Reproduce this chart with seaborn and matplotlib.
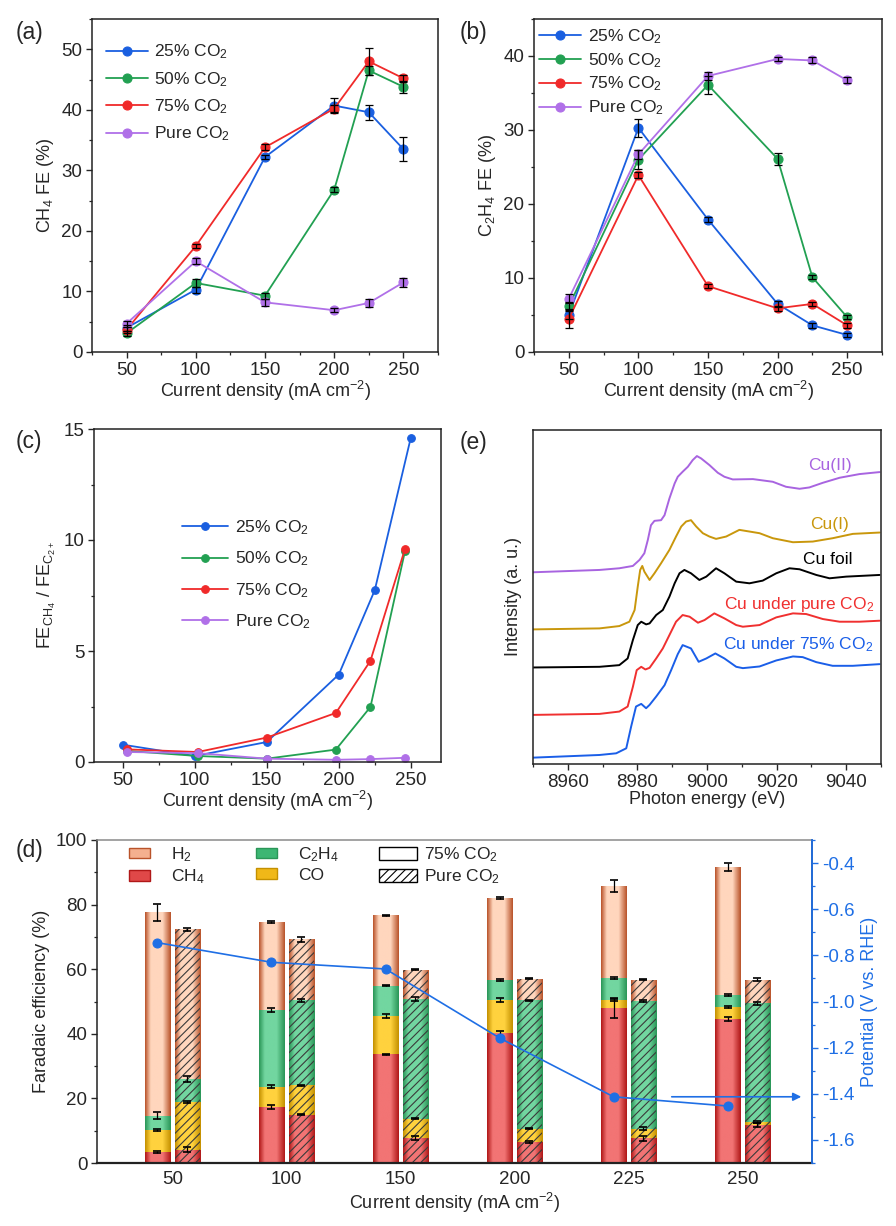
"""
CO2 partial pressure study: CH4 / C2H4 selectivity, product distribution and Cu K-edge XANES
"""

import numpy as np
import matplotlib
matplotlib.use('Agg')
import matplotlib.pyplot as plt
import seaborn as sns
from matplotlib.colors import LinearSegmentedColormap
from matplotlib.patches import Patch
from matplotlib.ticker import MultipleLocator, FormatStrFormatter

# ─────────────────────────────────────────────
# DATA
# ─────────────────────────────────────────────
j = [50, 100, 150, 200, 225, 250]  # current density, mA cm-2

# (a) CH4 FE (%)
ch4_25 = [4.0, 10.3, 32.2, 40.7, 39.6, 33.5]
ch4_50 = [3.1, 11.4, 9.3, 26.8, 46.5, 43.8]
ch4_75 = [3.7, 17.5, 33.8, 40.2, 48.0, 45.2]
ch4_pure = [4.7, 15.0, 8.2, 6.9, 8.1, 11.5]
ch4_25_err = [0.5, 0.5, 0.4, 1.3, 1.2, 2.0]
ch4_50_err = [0.4, 0.7, 0.5, 0.4, 0.8, 1.0]
ch4_75_err = [0.5, 0.4, 0.5, 0.6, 2.2, 0.6]
ch4_pure_err = [0.5, 0.5, 0.6, 0.3, 0.6, 0.7]

# (b) C2H4 FE (%)
c2h4_25 = [5.0, 30.3, 17.9, 6.5, 3.6, 2.3]
c2h4_50 = [6.2, 26.0, 36.1, 26.1, 10.1, 4.7]
c2h4_75 = [4.5, 23.9, 8.9, 5.9, 6.5, 3.6]
c2h4_pure = [7.2, 26.7, 37.3, 39.6, 39.4, 36.7]
c2h4_25_err = [0.5, 1.2, 0.4, 0.4, 0.3, 0.3]
c2h4_50_err = [0.5, 1.3, 1.2, 0.8, 0.3, 0.3]
c2h4_75_err = [1.3, 0.4, 0.3, 0.3, 0.3, 0.3]
c2h4_pure_err = [0.6, 0.6, 0.6, 0.3, 0.4, 0.4]

# (c) FE_CH4 / FE_C2+
ratio_x25 = [50, 100, 150, 200, 225, 250]
ratio_x = [53, 102, 150, 198, 222, 246]
ratio_25 = [0.78, 0.27, 0.90, 3.94, 7.74, 14.6]
ratio_50 = [0.50, 0.27, 0.15, 0.56, 2.48, 9.5]
ratio_75 = [0.57, 0.45, 1.10, 2.21, 4.56, 9.6]
ratio_pure = [0.45, 0.40, 0.15, 0.10, 0.13, 0.19]

# (d) product distribution, FE (%) of each product (stacked), 75% CO2 and pure CO2
cats = ['50', '100', '150', '200', '225', '250']
d_ch4_75 = [3.4, 17.4, 33.6, 40.1, 48.0, 44.7]
d_co_75 = [6.9, 6.2, 11.9, 10.5, 2.6, 3.6]
d_c2h4_75 = [4.4, 23.7, 9.4, 6.0, 6.8, 3.7]
d_h2_75 = [62.9, 27.4, 21.8, 25.3, 28.3, 39.7]
d_ch4_pure = [4.1, 15.0, 7.7, 6.5, 7.7, 11.7]
d_co_pure = [14.8, 9.0, 6.0, 4.1, 2.9, 1.0]
d_c2h4_pure = [7.2, 26.4, 37.1, 39.8, 39.5, 36.7]
d_h2_pure = [46.2, 18.8, 9.1, 6.7, 6.7, 7.4]
e_ch4_75 = [0.4, 0.6, 0.3, 0.8, 3.0, 0.6]
e_co_75 = [0.3, 0.5, 0.5, 0.6, 0.3, 0.2]
e_c2h4_75 = [1.1, 0.6, 0.2, 0.4, 0.3, 0.2]
e_h2_75 = [2.6, 0.3, 0.2, 0.3, 1.8, 1.2]
e_ch4_pure = [0.7, 0.2, 0.6, 0.2, 0.8, 0.6]
e_co_pure = [0.3, 0.3, 0.2, 0.2, 0.5, 0.4]
e_c2h4_pure = [0.9, 0.4, 0.7, 0.2, 0.3, 0.4]
e_h2_pure = [0.5, 0.7, 0.2, 0.2, 0.2, 0.4]
potential = [-0.745, -0.830, -0.859, -1.158, -1.413, -1.453]  # V vs. RHE

# (e) Cu K-edge XANES, photon energy (eV) / normalised intensity (offset, a.u.)
e_cu2 = [8949.9, 8969.1, 8974.8, 8978.7, 8980.6, 8982.0, 8983.0, 8983.9, 8984.9, 8986.8,
         8987.8, 8989.2, 8990.7, 8991.6, 8993.0, 8994.5, 8995.9, 8997.1, 8998.3, 9000.7,
         9003.1, 9005.0, 9007.4, 9013.2, 9018.9, 9022.7, 9026.6, 9029.4, 9033.3, 9038.1,
         9043.8, 9049.6]
i_cu2 = [5.74, 5.81, 5.86, 5.93, 6.11, 6.31, 6.71, 7.15, 7.28, 7.30,
         7.45, 7.95, 8.40, 8.60, 8.75, 8.90, 9.10, 9.22, 9.15, 8.95,
         8.72, 8.60, 8.52, 8.53, 8.45, 8.30, 8.24, 8.28, 8.42, 8.57,
         8.68, 8.74]
e_cu1 = [8949.9, 8969.1, 8974.8, 8977.7, 8979.2, 8980.1, 8980.8, 8981.4, 8982.0, 8983.5,
         8984.9, 8986.8, 8989.2, 8991.1, 8992.6, 8994.0, 8995.4, 8996.9, 8998.8, 9000.7,
         9002.6, 9005.5, 9009.3, 9015.1, 9018.9, 9024.7, 9030.4, 9036.1, 9041.9, 9049.6]
i_cu1 = [4.03, 4.06, 4.13, 4.26, 4.61, 5.31, 5.81, 5.93, 5.76, 5.51,
         5.71, 6.01, 6.41, 6.81, 7.11, 7.26, 7.30, 7.11, 6.91, 6.81,
         6.74, 6.81, 7.01, 6.91, 6.76, 6.64, 6.66, 6.76, 6.89, 6.93]
e_foil = [8949.9, 8969.1, 8974.8, 8977.2, 8978.7, 8980.1, 8981.1, 8982.5, 8983.5, 8985.4,
          8987.3, 8989.2, 8990.7, 8992.1, 8993.5, 8995.4, 8997.8, 8999.8, 9002.6, 9005.0,
          9008.4, 9012.2, 9016.0, 9019.9, 9023.7, 9026.6, 9031.4, 9035.2, 9040.0, 9049.6]
i_foil = [2.89, 2.91, 2.96, 3.16, 3.71, 4.16, 4.26, 4.18, 4.21, 4.46,
          4.61, 5.01, 5.41, 5.71, 5.81, 5.71, 5.51, 5.61, 5.86, 5.71,
          5.46, 5.41, 5.49, 5.71, 5.86, 5.83, 5.66, 5.56, 5.61, 5.66]
e_pure = [8949.9, 8969.1, 8974.8, 8977.2, 8978.7, 8979.8, 8981.1, 8982.3, 8983.5, 8985.4,
          8987.3, 8989.2, 8991.1, 8993.0, 8995.0, 8997.4, 8999.3, 9002.1, 9005.0, 9008.4,
          9010.3, 9015.1, 9019.9, 9024.7, 9028.5, 9033.3, 9038.1, 9043.8, 9049.6]
i_pure = [1.47, 1.50, 1.57, 1.72, 2.31, 2.81, 2.91, 2.83, 2.88, 3.16,
          3.46, 3.86, 4.26, 4.46, 4.41, 4.23, 4.31, 4.51, 4.36, 4.16,
          4.11, 4.16, 4.39, 4.51, 4.49, 4.34, 4.26, 4.26, 4.29]
e_75 = [8949.9, 8969.1, 8973.9, 8976.8, 8978.2, 8979.6, 8981.1, 8982.5, 8983.5, 8985.4,
        8987.8, 8989.7, 8991.6, 8993.0, 8995.4, 8997.6, 8999.8, 9002.4, 9005.0, 9008.4,
        9010.3, 9015.1, 9019.9, 9024.7, 9027.5, 9031.4, 9036.1, 9041.9, 9049.6]
i_75 = [0.19, 0.27, 0.32, 0.47, 1.12, 1.72, 1.80, 1.67, 1.77, 2.02,
        2.36, 2.81, 3.29, 3.56, 3.46, 3.06, 3.16, 3.31, 3.16, 2.91,
        2.87, 2.92, 3.10, 3.22, 3.20, 3.05, 2.94, 2.94, 2.99]

# ─────────────────────────────────────────────
# STYLE
# ─────────────────────────────────────────────
sns.set_style('ticks')
plt.rcParams['font.family'] = ['Liberation Sans', 'DejaVu Sans']
plt.rcParams['mathtext.default'] = 'regular'
plt.rcParams['axes.linewidth'] = 1.1
plt.rcParams['hatch.linewidth'] = 0.8
plt.rcParams['xtick.direction'] = 'out'
plt.rcParams['ytick.direction'] = 'out'

BLUE, GREEN, RED, PURPLE = '#1a5fe0', '#22a052', '#f02a2a', '#b070e8'
AXBLUE = '#1f6fe5'
TICK_FS, LAB_FS, LEG_FS = 13.5, 13, 12.5

W, H = 896, 1226
fig = plt.figure(figsize=(W / 100, H / 100), dpi=100)


def box(l, t, r, b):
    return [l / W, 1 - b / H, (r - l) / W, (b - t) / H]


def style_ax(ax):
    ax.tick_params(which='major', length=4, width=1.0, labelsize=TICK_FS, pad=3)
    ax.tick_params(which='minor', length=2.5, width=0.9)
    for s in ax.spines.values():
        s.set_visible(True)
        s.set_linewidth(1.1)
        s.set_color('#222222')


def series(ax, x, y, color, label, err=None, ms=6.5):
    sns.lineplot(x=x, y=y, ax=ax, color=color, lw=1.3, marker='o', markersize=ms,
                 markeredgecolor=color, markeredgewidth=0.8, label=label, sort=False)
    if err is not None:
        ax.errorbar(x, y, yerr=err, fmt='none', ecolor='k', elinewidth=0.9,
                    capsize=2.8, capthick=0.9, zorder=4)


def current_axis(ax, xlim):
    ax.set_xlim(*xlim)
    ax.xaxis.set_major_locator(MultipleLocator(50))
    ax.xaxis.set_minor_locator(MultipleLocator(25))
    ax.set_xlabel('Current density (mA cm$^{-2}$)', fontsize=LAB_FS, labelpad=0)


labels = ['25% CO$_2$', '50% CO$_2$', '75% CO$_2$', 'Pure CO$_2$']
colors = [BLUE, GREEN, RED, PURPLE]

# ─────────────────────────────────────────────
# (a) CH4 FE
# ─────────────────────────────────────────────
ax_a = fig.add_axes(box(92, 19, 438, 352))
for yv, ev, c, lb in zip([ch4_25, ch4_50, ch4_75, ch4_pure],
                         [ch4_25_err, ch4_50_err, ch4_75_err, ch4_pure_err], colors, labels):
    series(ax_a, j, yv, c, lb, ev)
current_axis(ax_a, (25, 275))
ax_a.set_ylim(0, 55)
ax_a.yaxis.set_major_locator(MultipleLocator(10))
ax_a.yaxis.set_minor_locator(MultipleLocator(5))
ax_a.set_ylabel('CH$_4$ FE (%)', fontsize=LAB_FS, labelpad=4)
ax_a.legend(loc='upper left', bbox_to_anchor=(0.02, 0.95), frameon=False, fontsize=LEG_FS,
            handlelength=2.4, handletextpad=0.4, labelspacing=0.5, borderaxespad=0)
style_ax(ax_a)

# ─────────────────────────────────────────────
# (b) C2H4 FE
# ─────────────────────────────────────────────
ax_b = fig.add_axes(box(534, 19, 882, 352))
for yv, ev, c, lb in zip([c2h4_25, c2h4_50, c2h4_75, c2h4_pure],
                         [c2h4_25_err, c2h4_50_err, c2h4_75_err, c2h4_pure_err], colors, labels):
    series(ax_b, j, yv, c, lb, ev)
current_axis(ax_b, (25, 275))
ax_b.set_ylim(0, 45)
ax_b.yaxis.set_major_locator(MultipleLocator(10))
ax_b.yaxis.set_minor_locator(MultipleLocator(5))
ax_b.set_ylabel('C$_2$H$_4$ FE (%)', fontsize=LAB_FS, labelpad=4)
ax_b.legend(loc='upper left', bbox_to_anchor=(-0.005, 0.997), frameon=False, fontsize=LEG_FS,
            handlelength=2.4, handletextpad=0.4, labelspacing=0.3, borderaxespad=0)
style_ax(ax_b)

# ─────────────────────────────────────────────
# (c) FE ratio
# ─────────────────────────────────────────────
ax_c = fig.add_axes(box(94, 429, 441, 762))
for xv, yv, c, lb in zip([ratio_x25, ratio_x, ratio_x, ratio_x],
                         [ratio_25, ratio_50, ratio_75, ratio_pure], colors, labels):
    series(ax_c, xv, yv, c, lb, ms=5.5)
current_axis(ax_c, (30, 271))
ax_c.set_ylim(0, 15)
ax_c.yaxis.set_major_locator(MultipleLocator(5))
ax_c.yaxis.set_minor_locator(MultipleLocator(2.5))
ax_c.set_ylabel('FE$_{CH_4}$ / FE$_{C_{2+}}$', fontsize=LAB_FS, labelpad=4)
ax_c.legend(loc='upper left', bbox_to_anchor=(0.235, 0.752), frameon=False, fontsize=LEG_FS,
            handlelength=2.6, handletextpad=0.4, labelspacing=0.72, borderaxespad=0)
style_ax(ax_c)

# ─────────────────────────────────────────────
# (e) XANES
# ─────────────────────────────────────────────
ax_e = fig.add_axes(box(533, 430, 881, 764))
xanes = [(e_cu2, i_cu2, '#a864e0', 'Cu(II)'),
         (e_cu1, i_cu1, '#c9970c', 'Cu(I)'),
         (e_foil, i_foil, '#000000', 'Cu foil'),
         (e_pure, i_pure, '#f03030', 'Cu under pure CO$_2$'),
         (e_75, i_75, '#1a5ee8', 'Cu under 75% CO$_2$')]
tag_pos = [(9041.5, 8.95), (9040.7, 7.16), (9041.7, 6.11), (9048.1, 4.78), (9047.8, 3.56)]
for (ev, iv, c, name), (tx, ty) in zip(xanes, tag_pos):
    sns.lineplot(x=ev, y=iv, ax=ax_e, color=c, lw=1.4, sort=False)
    ax_e.text(tx, ty, name, color=c, fontsize=12.5, ha='right', va='center')
ax_e.set_xlim(8950, 9050)
ax_e.set_ylim(0, 10)
ax_e.set_yticks([])
ax_e.xaxis.set_major_locator(MultipleLocator(20))
ax_e.xaxis.set_minor_locator(MultipleLocator(10))
ax_e.set_xlabel('Photon energy (eV)', fontsize=LAB_FS, labelpad=0)
ax_e.set_ylabel('Intensity (a. u.)', fontsize=LAB_FS, labelpad=8)
style_ax(ax_e)

# ─────────────────────────────────────────────
# (d) stacked FE bars + potential
# ─────────────────────────────────────────────
ax_d = fig.add_axes(box(97, 840, 812, 1163))
idx = np.arange(len(cats))
bw, off = 0.22, 0.13
grad = np.linspace(0, 1, 64).reshape(1, -1)


def shade(dark, light):
    return LinearSegmentedColormap.from_list('s', [(0, dark), (0.22, light), (0.68, light), (1, dark)])


prod_style = {
    'H2': ('#b9532a', '#ffd6bd', '#f4b08f'),
    'CH4': ('#b01818', '#f27474', '#e04848'),
    'C2H4': ('#2a9657', '#72d6a0', '#3cb673'),
    'CO': ('#c49000', '#ffd23e', '#f0b818'),
}


def grad_stack(xpos, parts, errs, hatch):
    bottom = np.zeros(len(cats))
    for key, vals, ev in zip(['CH4', 'CO', 'C2H4', 'H2'], parts, errs):
        dark, light, _ = prod_style[key]
        bars = ax_d.bar(xpos, vals, width=bw, bottom=bottom, color='none', edgecolor='none')
        for p in bars.patches:
            im = ax_d.imshow(grad, extent=[p.get_x(), p.get_x() + p.get_width(),
                                           p.get_y(), p.get_y() + p.get_height()],
                             aspect='auto', cmap=shade(dark, light), zorder=1.5,
                             interpolation='bilinear')
            im.set_clip_path(p)
        if hatch:
            ax_d.bar(xpos, vals, width=bw, bottom=bottom, fill=False, hatch=hatch,
                     edgecolor='#3a3a3a', lw=0, zorder=1.6)
        top = bottom + np.array(vals)
        ax_d.errorbar(xpos, top, yerr=ev, fmt='none', ecolor='k', elinewidth=0.9,
                      capsize=2.8, capthick=1.2, zorder=3)
        bottom = top


grad_stack(idx - off, [d_ch4_75, d_co_75, d_c2h4_75, d_h2_75],
           [e_ch4_75, e_co_75, e_c2h4_75, e_h2_75], None)
grad_stack(idx + off, [d_ch4_pure, d_co_pure, d_c2h4_pure, d_h2_pure],
           [e_ch4_pure, e_co_pure, e_c2h4_pure, e_h2_pure], '////')

ax_d.set_xlim(-0.66, 5.61)
ax_d.set_ylim(0, 100)
ax_d.set_xticks(idx)
ax_d.set_xticklabels(cats)
ax_d.yaxis.set_major_locator(MultipleLocator(20))
ax_d.yaxis.set_minor_locator(MultipleLocator(10))
ax_d.set_ylabel('Faradaic efficiency (%)', fontsize=LAB_FS, labelpad=4)
ax_d.set_xlabel('Current density (mA cm$^{-2}$)', fontsize=LAB_FS, labelpad=2)
style_ax(ax_d)
ax_d.tick_params(axis='x', which='both', length=0, pad=6)
ax_d.spines['top'].set_color('#8a8a8a')
ax_d.spines['bottom'].set_linewidth(1.6)

ax_p = ax_d.twinx()
sns.lineplot(x=idx - off, y=potential, ax=ax_p, color=AXBLUE, lw=1.2, marker='o',
             markersize=6.5, markeredgecolor=AXBLUE, sort=False)
ax_p.annotate('', xy=(0.985, potential[4]), xycoords=('axes fraction', 'data'),
              xytext=(idx[5] - 0.62, potential[4]), textcoords='data',
              arrowprops=dict(arrowstyle='-|>', color=AXBLUE, lw=1.2, mutation_scale=12,
                              shrinkA=0, shrinkB=0))
ax_p.set_ylim(-1.7, -0.3)
ax_p.yaxis.set_major_locator(MultipleLocator(0.2))
ax_p.yaxis.set_minor_locator(MultipleLocator(0.1))
ax_p.yaxis.set_major_formatter(FormatStrFormatter('%.1f'))
ax_p.set_ylabel('Potential (V vs. RHE)', fontsize=LAB_FS, color=AXBLUE, labelpad=4)
ax_p.tick_params(which='major', length=4, width=1.0, labelsize=TICK_FS, colors=AXBLUE)
ax_p.tick_params(which='minor', length=2.5, width=0.9, colors=AXBLUE)
for name, s in ax_p.spines.items():
    s.set_visible(name == 'right')
ax_p.spines['right'].set_color(AXBLUE)
ax_p.spines['right'].set_linewidth(1.3)

prod_handles = [Patch(facecolor=prod_style[k][2], edgecolor=prod_style[k][0], lw=1.0)
                for k in ['H2', 'CH4', 'C2H4', 'CO']]
leg1 = ax_d.legend(prod_handles, ['H$_2$', 'CH$_4$', 'C$_2$H$_4$', 'CO'], ncol=2,
                   loc='upper left', bbox_to_anchor=(0.035, 1.005), frameon=False,
                   fontsize=LEG_FS, handlelength=1.2, handleheight=0.55,
                   handletextpad=1.2, columnspacing=3.0, labelspacing=0.2, borderaxespad=0)
ax_d.add_artist(leg1)
type_handles = [Patch(facecolor='white', edgecolor='k', lw=1.0),
                Patch(facecolor='white', edgecolor='k', lw=1.0, hatch='////')]
ax_d.legend(type_handles, ['75% CO$_2$', 'Pure CO$_2$'], loc='upper left',
            bbox_to_anchor=(0.385, 1.005), frameon=False, fontsize=LEG_FS,
            handlelength=2.2, handleheight=0.75, handletextpad=0.4,
            labelspacing=0.2, borderaxespad=0)

# ─────────────────────────────────────────────
# panel letters
# ─────────────────────────────────────────────
for txt, px, py in [('(a)', 16, 32), ('(b)', 460, 32), ('(c)', 16, 441),
                    ('(e)', 460, 442), ('(d)', 16, 850)]:
    fig.text(px / W, 1 - py / H, txt, fontsize=16.5, ha='left', va='center')

plt.savefig('out.png', dpi=100)
plt.close()
print("[OK] Saved: out.png")
